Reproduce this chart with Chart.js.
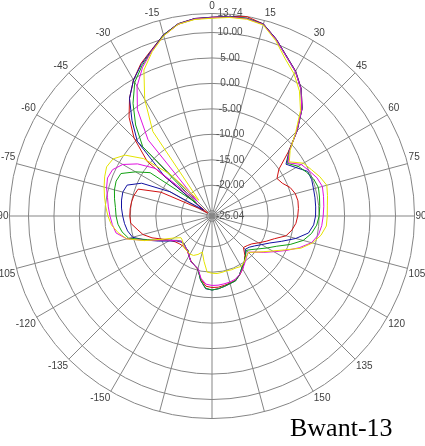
<!DOCTYPE html>
<html>
<head>
<meta charset="utf-8">
<script src="https://cdn.jsdelivr.net/npm/chart.js@4.4.0/dist/chart.umd.min.js"></script>
<style>
html,body{margin:0;padding:0;width:425px;height:446px;overflow:hidden;background:#fff;}
#wrap{position:absolute;left:-7px;top:-2px;width:436px;height:436px;}
#cap{position:absolute;left:290px;top:415px;font-family:"Liberation Serif","Times New Roman",serif;font-size:26px;line-height:26px;color:#000;white-space:nowrap;}
</style>
</head>
<body>
<div id="wrap"><canvas id="c"></canvas></div>
<div id="cap">Bwant-13</div>
<script>
// angle labels every 5 degrees (0 at top, clockwise); only multiples of 15 are shown
const angleLabels = [
 "0","","", "15","","", "30","","", "45","","", "60","","", "75","","",
 "90","","", "105","","", "120","","", "135","","", "150","","", "","","",
 "","","", "","","", "-150","","", "-135","","", "-120","","", "-105","","",
 "-90","","", "-75","","", "-60","","", "-45","","", "-30","","", "-15","",""
];
const radialTicks = [-26.04, -25, -20, -15, -10, -5, 0, 5, 10, 13.74];
const hiddenTickLabels = [-25];
const rMin = -26.04, rMax = 13.74;

const red = [
 13.0, 13.3, 13.7, 13.0, 10.9, 8.6, 6.8, 4.5, 1.5, -2.4, -6.5, -10.0,
 -11.3, -10.8, -9.7, -9.1, -8.9, -9.0, -9.2, -9.5, -10.1, -11.0, -13.0, -14.3,
 -15.5, -16.5, -17.0, -17.3, -16.0, -15.0, -14.0, -13.2, -12.6, -12.4, -12.2, -12.0,
 -12.0, -12.2, -13.5, -15.2, -15.8, -16.3, -17.0, -17.6, -17.8, -17.8, -17.6, -17.2,
 -16.5, -15.3, -13.5, -12.0, -11.1, -10.0, -9.9, -9.9, -10.0, -10.2, -10.6, -15.0,
 -23.0, -25.0, -9.5, -4.4, -0.7, 2.2, 4.8, 7.0, 8.7, 10.8, 12.3, 12.9
];
const blue = [
 13.0, 13.3, 13.4, 13.0, 10.9, 8.6, 6.8, 4.5, 1.5, -2.4, -6.3, -8.3,
 -7.0, -5.3, -5.2, -5.4, -5.5, -5.6, -5.7, -6.0, -6.8, -9.0, -11.5, -13.5,
 -14.8, -15.8, -16.5, -16.8, -15.8, -15.0, -14.3, -13.3, -12.5, -12.3, -12.0, -11.7,
 -11.5, -11.7, -13.2, -15.3, -15.8, -16.2, -17.0, -17.8, -18.0, -18.3, -18.1, -17.5,
 -16.2, -14.4, -12.2, -9.9, -9.2, -8.8, -8.5, -8.2, -8.0, -7.9, -8.3, -10.8,
 -16.5, -24.0, -13.8, -5.3, -1.6, 2.2, 4.8, 6.8, 8.6, 10.8, 12.3, 12.9
];
const green = [
 12.9, 13.2, 13.4, 12.9, 10.8, 8.5, 6.7, 4.4, 1.4, -2.5, -6.3, -8.0,
 -6.5, -5.6, -4.8, -4.4, -4.6, -4.8, -5.0, -5.4, -6.2, -7.5, -9.7, -12.0,
 -13.5, -14.8, -15.8, -16.5, -15.8, -15.0, -14.3, -13.3, -12.5, -12.3, -12.0, -11.7,
 -11.5, -11.8, -13.2, -15.3, -15.8, -16.2, -17.0, -17.8, -18.0, -18.3, -18.3, -17.7,
 -16.5, -14.7, -12.5, -9.1, -8.1, -7.5, -7.2, -7.0, -6.6, -6.2, -6.0, -6.3,
 -8.7, -11.2, -22.0, -6.8, -2.7, 1.0, 4.3, 6.5, 8.5, 10.7, 12.2, 12.8
];
const magenta = [
 12.9, 13.2, 13.3, 12.9, 10.8, 8.5, 6.7, 4.4, 1.4, -2.5, -6.2, -7.8,
 -5.8, -5.0, -4.1, -3.6, -3.8, -4.0, -4.2, -4.4, -4.8, -5.8, -7.8, -10.0,
 -12.0, -13.6, -15.0, -16.0, -15.5, -14.8, -14.0, -13.3, -12.8, -12.6, -12.5, -12.4,
 -12.4, -12.6, -13.6, -15.4, -15.8, -16.2, -17.0, -17.7, -18.0, -18.2, -18.3, -17.6,
 -16.5, -14.8, -12.0, -8.7, -6.9, -6.4, -6.0, -5.6, -5.2, -4.6, -4.2, -4.5,
 -5.8, -8.2, -11.5, -22.0, -6.5, -0.5, 3.4, 6.2, 8.5, 10.6, 12.2, 12.8
];
const yellow = [
 12.8, 13.1, 13.2, 12.8, 10.6, 8.0, 6.2, 3.9, 1.0, -2.8, -6.0, -7.5,
 -5.3, -4.5, -3.5, -2.7, -3.0, -3.3, -3.4, -3.5, -4.3, -5.6, -7.5, -10.3,
 -12.3, -13.8, -15.0, -15.9, -15.6, -15.0, -14.6, -14.8, -14.8, -14.9, -14.8, -14.7,
 -14.8, -15.0, -17.0, -18.7, -18.0, -17.5, -17.4, -17.6, -17.7, -18.0, -18.5, -18.6,
 -17.4, -15.2, -11.9, -8.7, -7.3, -6.2, -5.6, -5.1, -4.6, -4.1, -3.6, -3.2,
 -3.6, -5.2, -8.5, -14.5, -22.0, -5.8, 0.4, 5.6, 8.3, 10.6, 12.2, 12.7
];

const seriesList = [
  {name: "yellow", data: yellow, color: "#e4e400"},
  {name: "magenta", data: magenta, color: "#e010e0"},
  {name: "green", data: green, color: "#10a010"},
  {name: "blue", data: blue, color: "#1010a0"},
  {name: "red", data: red, color: "#d01010"}
];

const pad = "             ";
new Chart(document.getElementById("c"), {
  type: "radar",
  data: {
    labels: angleLabels,
    datasets: seriesList.map(s => ({
      label: s.name,
      data: s.data,
      borderColor: s.color,
      backgroundColor: "transparent",
      borderWidth: 1,
      pointRadius: 0,
      pointHoverRadius: 0,
      fill: false,
      tension: 0
    }))
  },
  options: {
    responsive: true,
    maintainAspectRatio: false,
    animation: false,
    events: [],
    plugins: { legend: { display: false }, tooltip: { enabled: false } },
    scales: {
      r: {
        min: rMin,
        max: rMax,
        startAngle: 0,
        afterBuildTicks: (scale) => { scale.ticks = radialTicks.map(v => ({ value: v })); },
        grid: { circular: true, color: "#858585", lineWidth: 1 },
        angleLines: {
          display: true,
          color: "#858585",
          lineWidth: (ctx) => (ctx.index % 3 === 0 ? 1 : 0)
        },
        ticks: {
          display: true,
          showLabelBackdrop: false,
          backdropPadding: 0,
          color: "#505050",
          font: { family: "'Liberation Sans', Arial, sans-serif", size: 10 },
          callback: (v) => hiddenTickLabels.includes(v) ? "" : pad + Number(v).toFixed(2)
        },
        pointLabels: {
          display: true,
          padding: -4,
          color: "#404040",
          font: { family: "'Liberation Sans', Arial, sans-serif", size: 10 }
        }
      }
    }
  }
});
</script>
</body>
</html>
